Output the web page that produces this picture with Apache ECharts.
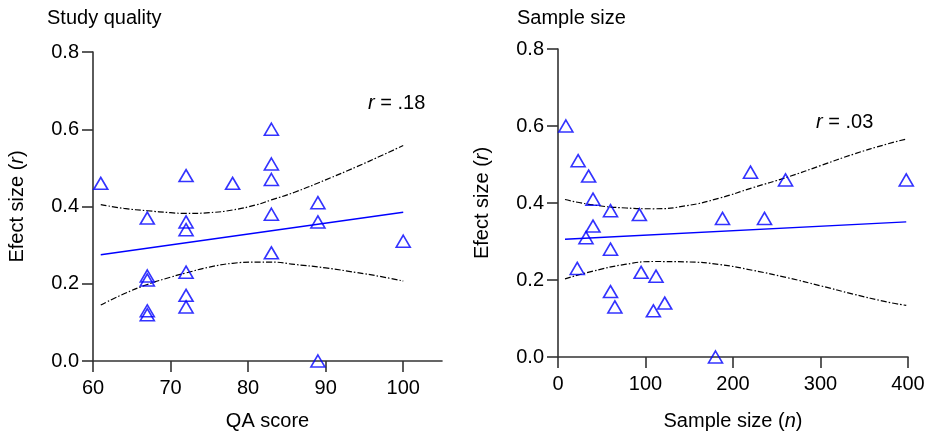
<!DOCTYPE html>
<html>
<head>
<meta charset="utf-8">
<script src="https://cdn.jsdelivr.net/npm/echarts@6/dist/echarts.min.js"></script>
<style>
  html, body { margin: 0; padding: 0; background: #fff; }
  #chart { width: 928px; height: 436px; }
</style>
</head>
<body>
<div id="chart"></div>
<script>
// Left panel: effect size against study quality (QA score)
const qaScore  = [61, 67, 67, 67, 67, 67, 72, 72, 72, 72, 72, 72, 78, 83, 83, 83, 83, 83, 89, 89, 89, 100];
const qaEffect = [0.46, 0.37, 0.22, 0.21, 0.13, 0.12, 0.48, 0.36, 0.34, 0.23, 0.17, 0.14, 0.46, 0.60, 0.51, 0.47, 0.38, 0.28, 0.41, 0.36, 0.00, 0.31];
const qaFitX   = [61, 100];
const qaFitY   = [0.275, 0.385];
const qaBandX  = [61, 64, 67, 70, 72, 75, 78, 81, 83, 86, 90, 94, 97, 100];
const qaUpper  = [0.405, 0.395, 0.389, 0.384, 0.382, 0.384, 0.391, 0.404, 0.417, 0.437, 0.469, 0.503, 0.530, 0.558];
const qaLower  = [0.145, 0.174, 0.198, 0.217, 0.228, 0.243, 0.253, 0.256, 0.256, 0.250, 0.241, 0.229, 0.219, 0.207];
const qaTicks  = [60, 70, 80, 90, 100];

// Right panel: effect size against sample size (n)
const sampleN      = [9, 23, 35, 40, 60, 93, 40, 32, 60, 22, 95, 112, 60, 65, 109, 122, 180, 188, 220, 260, 236, 398];
const sampleEffect = [0.60, 0.51, 0.47, 0.41, 0.38, 0.37, 0.34, 0.31, 0.28, 0.23, 0.22, 0.21, 0.17, 0.13, 0.12, 0.14, 0.00, 0.36, 0.48, 0.46, 0.36, 0.46];
const nFitX   = [8, 398];
const nFitY   = [0.306, 0.351];
const nBandX  = [8, 40, 78, 109, 147, 185, 223, 262, 300, 338, 376, 398];
const nUpper  = [0.409, 0.395, 0.387, 0.385, 0.393, 0.413, 0.440, 0.467, 0.497, 0.527, 0.553, 0.566];
const nLower  = [0.203, 0.223, 0.241, 0.248, 0.247, 0.240, 0.225, 0.206, 0.185, 0.163, 0.143, 0.134];
const nTicks  = [0, 100, 200, 300, 400];

const titles = ['Study quality', 'Sample size'];
const rLabels = ['.18', '.03'];

const FONT = "'Liberation Sans', Arial, Helvetica, sans-serif";
const INK = '#000';
const AXIS = '#333';
const BLUE = '#0000ff';

const pairs = (xs, ys) => xs.map((x, i) => [x, ys[i]]);
const rich = {
  n: { fontSize: 20, fontFamily: FONT, color: INK },
  i: { fontSize: 20, fontFamily: FONT, color: INK, fontStyle: 'italic' }
};

function xAxisFor(idx, min, max, ticks, name, gap) {
  return {
    gridIndex: idx, type: 'value', min, max, interval: ticks[1] - ticks[0],
    name, nameLocation: 'middle', nameGap: gap,
    nameTextStyle: { fontSize: 20, fontFamily: FONT, color: INK, rich },
    axisLine: { show: true, onZero: false, lineStyle: { color: AXIS, width: 1.6 } },
    axisTick: { show: true, length: 11, customValues: ticks, lineStyle: { color: AXIS, width: 1.6 } },
    axisLabel: { customValues: ticks, margin: 17, fontSize: 20, fontFamily: FONT, color: INK },
    splitLine: { show: false }
  };
}
function yAxisFor(idx, name) {
  return {
    gridIndex: idx, type: 'value', min: 0, max: 0.8, interval: 0.2,
    name, nameLocation: 'middle', nameGap: 66, nameRotate: 90,
    nameTextStyle: { fontSize: 20, fontFamily: FONT, color: INK, rich },
    axisLine: { show: true, onZero: false, lineStyle: { color: AXIS, width: 1.6 } },
    axisTick: { show: true, length: 11, lineStyle: { color: AXIS, width: 1.6 } },
    axisLabel: { margin: 14, fontSize: 20, fontFamily: FONT, color: INK, formatter: v => v.toFixed(1) },
    splitLine: { show: false }
  };
}

function scatter(idx, xs, ys) {
  return {
    type: 'scatter', xAxisIndex: idx, yAxisIndex: idx, data: pairs(xs, ys),
    symbol: 'triangle', symbolSize: [14, 12], z: 5,
    itemStyle: { color: 'rgba(0,0,0,0)', borderColor: BLUE, borderWidth: 1.6 }
  };
}
function line(idx, xs, ys, color, width, type, smooth) {
  return {
    type: 'line', xAxisIndex: idx, yAxisIndex: idx, data: pairs(xs, ys),
    showSymbol: false, symbol: 'none', smooth, z: 3,
    lineStyle: { color, width, type }
  };
}

const dashDot = [6, 2, 1.5, 2];

const option = {
  animation: false,
  backgroundColor: '#fff',
  title: [
    { text: titles[0], left: 47, top: 8, padding: 0,
      textStyle: { fontSize: 20, fontWeight: 'normal', fontFamily: FONT, color: INK } },
    { text: titles[1], left: 517, top: 8, padding: 0,
      textStyle: { fontSize: 20, fontWeight: 'normal', fontFamily: FONT, color: INK } }
  ],
  grid: [
    { left: 93, top: 52, width: 349, height: 310 },
    { left: 558, top: 49, width: 350, height: 310 }
  ],
  xAxis: [
    xAxisFor(0, 60, 105, qaTicks, '{n|QA score}', 50),
    xAxisFor(1, 0, 400, nTicks, '{n|Sample size (}{i|n}{n|)}', 54)
  ],
  yAxis: [
    yAxisFor(0, '{n|Efect size (}{i|r}{n|)}'),
    yAxisFor(1, '{n|Efect size (}{i|r}{n|)}')
  ],
  graphic: [
    { type: 'text', x: 368, y: 103,
      style: { text: '{i|r}{n| = ' + rLabels[0] + '}', rich, verticalAlign: 'middle', align: 'left' } },
    { type: 'text', x: 816, y: 122,
      style: { text: '{i|r}{n| = ' + rLabels[1] + '}', rich, verticalAlign: 'middle', align: 'left' } }
  ],
  series: [
    line(0, qaBandX, qaUpper, '#000', 1.2, dashDot, true),
    line(0, qaBandX, qaLower, '#000', 1.2, dashDot, true),
    line(0, qaFitX, qaFitY, BLUE, 1.4, 'solid', false),
    scatter(0, qaScore, qaEffect),
    line(1, nBandX, nUpper, '#000', 1.2, dashDot, true),
    line(1, nBandX, nLower, '#000', 1.2, dashDot, true),
    line(1, nFitX, nFitY, BLUE, 1.4, 'solid', false),
    scatter(1, sampleN, sampleEffect)
  ]
};

echarts.init(document.getElementById('chart'), null, { renderer: 'canvas' }).setOption(option);
</script>
</body>
</html>
